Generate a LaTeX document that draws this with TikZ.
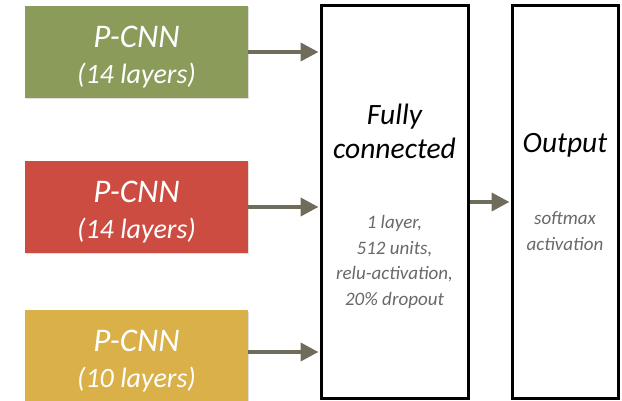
\documentclass[tikz,border=0pt]{standalone}
\usepackage{fontspec}
\setmainfont{Carlito}
\usetikzlibrary{arrows.meta,shadows}
\definecolor{boxgreen}{RGB}{138,155,90}
\definecolor{boxred}{RGB}{205,76,66}
\definecolor{boxyellow}{RGB}{218,177,72}
\definecolor{arrowgray}{RGB}{112,108,92}
\definecolor{notegray}{RGB}{105,105,105}
\newcommand{\cnnlabel}[1]{{\fontsize{33}{33}\selectfont P-CNN}\\[15pt]{\fontsize{28}{28}\selectfont(#1 layers)}}
\tikzset{
  cnnbox/.style={draw=none, minimum width=223pt, minimum height=92pt, inner sep=0pt,
    drop shadow={shadow xshift=1pt, shadow yshift=-1.5pt, opacity=0.25}},
  cnntext/.style={text=white, align=center, font=\itshape, inner sep=0pt, yshift=-5pt},
  layerbox/.style={draw=black, line width=3pt, fill=white, inner sep=0pt},
  feed/.style={draw=arrowgray, line width=4pt,
    -{Triangle[length=18pt, width=18pt]}, shorten >=1pt},
  bigtext/.style={font=\fontsize{29.5}{34}\selectfont\itshape, align=center},
  notetext/.style={font=\fontsize{19}{25.7}\selectfont\itshape, text=notegray, align=center},
}
\begin{document}
\begin{tikzpicture}[x=1pt, y=-1pt]
  \useasboundingbox (0,0) rectangle (622,401);

  % three P-CNN branches
  \node[cnnbox, fill=boxgreen]  (g) at (136.5,52)  {};
  \node[cnnbox, fill=boxred]    (r) at (136.5,207) {};
  \node[cnnbox, fill=boxyellow] (y) at (136.5,356) {};
  \node[cnntext] (gt) at (g.center) {\cnnlabel{14}};
  \node[cnntext] (rt) at (r.center) {\cnnlabel{14}};
  \node[cnntext] (yt) at (y.center) {\cnnlabel{10}};

  % dense layer and output layer
  \node[layerbox, minimum width=147pt, minimum height=392pt] (fc)  at (394.5,202) {};
  \node[layerbox, minimum width=106pt, minimum height=392pt] (out) at (565,202) {};

  \node[bigtext]  (fct) at (394.5,131) {Fully\\connected};
  \node[notetext] (fcn) at (394.5,262) {1 layer,\\512 units,\\relu-activation,\\20\% dropout};
  \node[bigtext]  (ot)  at (565,145) {Output};
  \node[notetext] (on)  at (565,231) {softmax\\activation};

  % connections
  \draw[feed] (g.east) -- (g.east -| fc.west);
  \draw[feed] (r.east) -- (r.east -| fc.west);
  \draw[feed] (y.east |- 0,352) -- (fc.west |- 0,352);
  \draw[feed] (fc.east |- 0,202) -- (out.west |- 0,202);
\end{tikzpicture}
\end{document}
